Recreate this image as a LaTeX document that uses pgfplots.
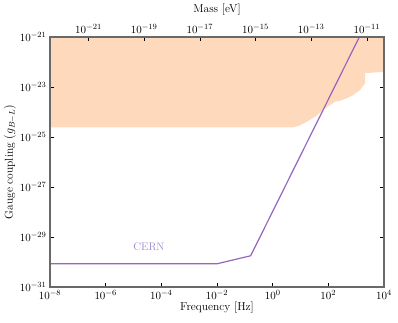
\documentclass[border=0pt]{standalone}
\usepackage{pgfplots}
\pgfplotsset{compat=1.18}
\definecolor{excl}{RGB}{255,217,187}
\definecolor{cern}{RGB}{148,103,189}
\definecolor{cernlab}{RGB}{160,134,207}
\definecolor{spine}{RGB}{105,105,105}
\begin{document}
\begin{tikzpicture}
\pgfplotsset{
  every axis/.append style={
    scale only axis, width=334pt, height=250pt,
    axis line style={spine, line width=1.3pt},
    tick style={black, line width=0.5pt},
    major tick length=4pt,
    xminorticks=false, yminorticks=false,
    tick label style={font=\fontsize{11}{13}\selectfont},
    label style={font=\fontsize{11.5}{13}\selectfont},
  }
}
\begin{axis}[
  name=main, at={(0,0)}, anchor=south west,
  xmode=log, ymode=log,
  xmin=1e-8, xmax=1e4, ymin=1e-31, ymax=1e-21,
  xtick={1e-8,1e-6,1e-4,1e-2,1,1e2,1e4},
  ytick={1e-31,1e-29,1e-27,1e-25,1e-23,1e-21},
  xtick pos=bottom, ytick pos=both,
  xlabel={Frequency [Hz]},
  ylabel={Gauge coupling $(g_{B-L})$},
  xlabel style={at={(axis description cs:0.5,-0.082)}, anchor=center},
  ylabel style={at={(axis description cs:-0.12,0.5)}, anchor=center},
  axis on top,
]
% excluded region
\addplot[fill=excl, draw=none] coordinates {
  (1e-8,1e-21) (1e-8,2.45e-25) (5.37,2.45e-25) (8.9,2.82e-25)
  (16.7,4.07e-25) (33.3,6.46e-25) (66.2,1.20e-24) (115,1.91e-24)
  (174,2.57e-24) (263,2.82e-24) (458,3.55e-24) (791,4.79e-24)
  (1380,7.59e-24) (2080,1.41e-23) (2080,3.55e-23) (1e4,4.07e-23)
  (1e4,1e-21)
} -- cycle;
% CERN
\addplot[cern, line width=1.2pt] coordinates {
  (1e-8,8.5e-31) (0.01,8.5e-31) (0.162,1.78e-30) (1300,1e-21)
};
\node[cernlab, font=\fontsize{11}{13}\selectfont] at (axis cs:3.6e-5,4.07e-30) {CERN};
\end{axis}
\begin{axis}[
  at={(0,0)}, anchor=south west,
  xmode=log, ymode=log,
  xmin=4.14e-23, xmax=4.14e-11, ymin=1e-31, ymax=1e-21,
  axis x line*=top, hide y axis,
  xtick={1e-21,1e-19,1e-17,1e-15,1e-13,1e-11},
  xlabel={Mass [eV]},
  xlabel style={at={(axis description cs:0.5,1.11)}, anchor=center},
]
\end{axis}
\pgfresetboundingbox
\path[use as bounding box] (-50pt,-35pt) rectangle (348pt,287pt);
\end{tikzpicture}
\end{document}
